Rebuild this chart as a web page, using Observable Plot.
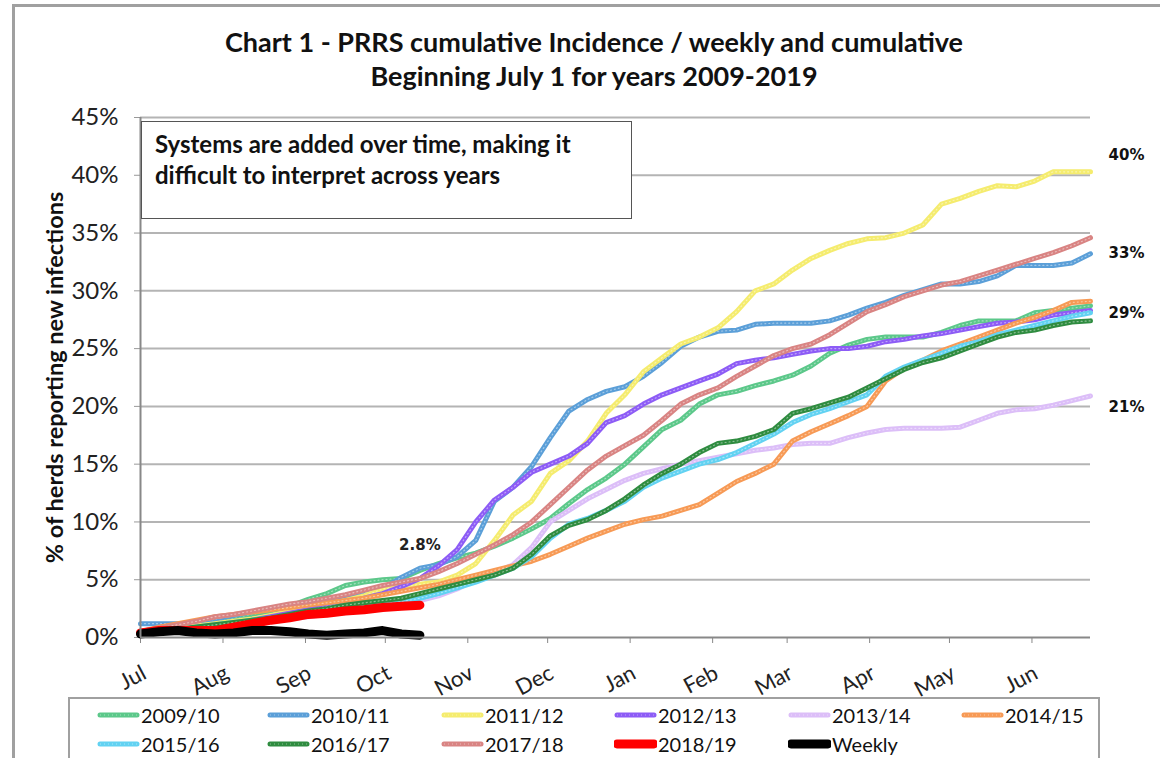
<!DOCTYPE html>
<html>
<head>
<meta charset="utf-8">
<script src="https://cdn.jsdelivr.net/npm/d3@7"></script>
<script src="https://cdn.jsdelivr.net/npm/@observablehq/plot@0.6"></script>
<style>
  html, body { margin: 0; padding: 0; background: #fff; }
  #wrap { position: relative; width: 1160px; height: 758px; overflow: hidden; background: #fff; font-family: Lato, "Open Sans", sans-serif; }
  #border { position: absolute; left: 12px; top: 4px; width: 1200px; height: 800px; border-left: 3px solid #a0a0a0; border-top: 3px solid #a0a0a0; }
  #title { position: absolute; left: 14px; top: 25px; width: 1160px; text-align: center; font-weight: 700; font-size: 27px; line-height: 34px; color: #111; }
  #chart { position: absolute; left: 0; top: 0; }
  #note { position: absolute; left: 141px; top: 121px; border: 1.5px solid #555; background: #fff; font-weight: 700; font-size: 24px; line-height: 31px; color: #111; padding: 6px 0 0 13px; box-sizing: border-box; width: 491px; height: 98px; }
  #legend { position: absolute; left: 68px; top: 697px; width: 1032px; height: 90px; border: 2px solid #a0a0a0; box-sizing: border-box; background: #fff; }
  .item { position: absolute; display: flex; align-items: center; font-size: 20px; color: #111; height: 24px; }
  .item svg { margin-right: 1px; }
</style>
</head>
<body>
<div id="wrap">
  <div id="border"></div>
  <div id="chart"></div>
  <div id="title">Chart 1 - PRRS cumulative Incidence / weekly and cumulative<br>Beginning July 1 for years 2009-2019</div>
  <div id="note">Systems are added over time, making it<br>difficult to interpret across years</div>
  <div id="legend"></div>
</div>
<script>
// ---- data ----
const monthLabels = ["Jul","Aug","Sep","Oct","Nov","Dec","Jan","Feb","Mar","Apr","May","Jun"];
const yTicks = [0, 5, 10, 15, 20, 25, 30, 35, 40, 45];

const seriesNames = ["2009/10","2010/11","2011/12","2012/13","2013/14","2014/15","2015/16","2016/17","2017/18","2018/19","Weekly"];
const seriesColors = ["#5cc88a","#5b9fd8","#f5ec6e","#8d5cf6","#dcbef8","#f79a55","#62d2f2","#2f8c40","#d98483","#ff0000","#000000"];

const s2009 = [0.5,0.8,1.0,1.2,1.4,1.7,2.0,2.3,2.7,3.3,3.8,4.5,4.8,5.0,5.1,5.8,6.4,6.9,7.3,7.9,8.6,9.4,10.3,11.6,12.8,13.8,15.0,16.5,18.0,18.8,20.2,21.0,21.3,21.8,22.2,22.7,23.5,24.6,25.3,25.8,26.0,26.0,26.0,26.4,27.0,27.4,27.4,27.4,28.1,28.3,28.5,28.7];
const s2010 = [1.2,1.2,1.2,1.3,1.6,1.9,2.2,2.5,2.8,3.0,3.3,3.6,3.9,4.2,5.2,6.0,6.3,7.0,8.4,11.8,13.0,14.8,17.3,19.6,20.6,21.3,21.7,22.6,23.8,25.2,26.0,26.5,26.6,27.1,27.2,27.2,27.2,27.4,27.9,28.5,29.0,29.6,30.1,30.6,30.6,30.8,31.3,32.2,32.2,32.2,32.4,33.2];
const s2011 = [0.4,0.6,0.8,1.0,1.2,1.4,1.6,1.9,2.2,2.5,2.8,3.2,3.6,4.2,4.4,4.6,4.8,5.4,6.4,8.4,10.6,11.8,14.2,15.3,17.0,19.4,21.0,23.0,24.2,25.4,26.0,26.8,28.2,30.0,30.6,31.8,32.8,33.5,34.1,34.5,34.6,35.0,35.7,37.5,38.0,38.6,39.1,39.0,39.5,40.3,40.3,40.3];
const s2012 = [0.3,0.4,0.6,0.8,1.0,1.2,1.5,1.8,2.1,2.4,2.7,3.0,3.4,3.8,4.4,5.1,6.2,7.6,10.0,11.9,13.0,14.3,15.0,15.7,16.8,18.6,19.2,20.2,21.0,21.6,22.2,22.8,23.7,24.0,24.2,24.5,24.8,25.0,25.0,25.2,25.6,25.8,26.1,26.3,26.6,26.9,27.2,27.3,27.5,27.9,28.1,28.3];
const s2013 = [0.3,0.4,0.5,0.7,0.8,1.0,1.2,1.4,1.6,1.8,2.0,2.2,2.4,2.6,2.9,3.2,3.6,4.2,5.0,5.6,6.3,7.8,10.0,11.0,12.0,12.8,13.6,14.2,14.6,15.0,15.3,15.6,15.9,16.2,16.4,16.7,16.8,16.8,17.3,17.7,18.0,18.1,18.1,18.1,18.2,18.8,19.4,19.7,19.8,20.1,20.5,20.9];
const s2014 = [0.5,0.9,1.2,1.5,1.8,2.0,2.2,2.4,2.6,2.8,3.0,3.2,3.4,3.7,4.0,4.3,4.6,5.0,5.4,5.8,6.2,6.6,7.2,7.9,8.6,9.2,9.8,10.2,10.5,11.0,11.5,12.5,13.5,14.2,15.0,17.0,17.8,18.5,19.2,20.0,22.2,23.3,24.0,24.8,25.4,26.0,26.6,27.2,27.7,28.3,29.0,29.1];
const s2015 = [0.3,0.5,0.7,0.9,1.1,1.3,1.5,1.7,1.9,2.1,2.3,2.5,2.7,2.9,3.1,3.4,3.8,4.3,4.8,5.4,6.0,7.0,8.6,9.8,10.3,11.0,11.8,13.0,13.8,14.4,15.0,15.4,16.0,16.8,17.6,18.6,19.3,19.8,20.4,21.0,22.6,23.4,24.0,24.6,25.2,25.6,26.2,26.6,27.0,27.4,27.8,28.1];
const s2016 = [0.3,0.5,0.7,0.9,1.1,1.3,1.5,1.7,2.0,2.3,2.5,2.8,3.0,3.2,3.4,3.8,4.2,4.6,5.0,5.4,6.0,7.2,8.8,9.7,10.2,11.0,12.0,13.2,14.2,15.0,16.0,16.8,17.0,17.4,18.0,19.4,19.8,20.3,20.8,21.6,22.4,23.2,23.8,24.2,24.8,25.4,26.0,26.4,26.6,27.0,27.3,27.4];
const s2017 = [0.5,0.8,1.1,1.4,1.8,2.0,2.3,2.6,2.9,3.1,3.4,3.7,4.1,4.5,4.8,5.1,5.7,6.4,7.2,8.0,8.9,10.0,11.5,13.0,14.5,15.7,16.6,17.5,18.8,20.2,21.0,21.6,22.6,23.5,24.4,25.0,25.4,26.2,27.2,28.2,28.8,29.5,30.0,30.5,30.8,31.3,31.8,32.3,32.8,33.3,33.9,34.6];
const s2018 = [0.4,0.6,0.6,0.6,0.6,0.9,1.2,1.5,1.7,2.0,2.1,2.3,2.4,2.6,2.7,2.8];
const sWeekly = [0.3,0.5,0.6,0.4,0.3,0.4,0.6,0.6,0.5,0.3,0.2,0.3,0.4,0.6,0.3,0.2];

const endLabels = ["40%","33%","29%","21%"];
const endLabelY = [41.7, 33.3, 28.1, 19.9];
const noteLabel = ["2.8%"];
const noteLabelY = [8.0];

// ---- build ----
const allSeries = [s2009,s2010,s2011,s2012,s2013,s2014,s2015,s2016,s2017,s2018,sWeekly];
const day = 864e5;
const start = Date.UTC(2009, 6, 1);
const weekDate = i => new Date(start + i * 7 * day);
const monthDates = monthLabels.map((m, i) => new Date(Date.UTC(2009, 6 + i, 1)));
const endDate = weekDate(51);

const rows = [];
allSeries.forEach((arr, s) => arr.forEach((v, i) => rows.push({series: seriesNames[s], idx: s, date: weekDate(i), value: v})));

const isBold = n => n === "2018/19" || n === "Weekly";
const widths = seriesNames.map(n => isBold(n) ? 9 : 5);

const lineMarks = seriesNames.flatMap((n, s) => {
  const data = rows.filter(r => r.idx === s);
  const base = Plot.line(data, {x: "date", y: "value", stroke: seriesColors[s], strokeWidth: widths[s], strokeLinejoin: "round", strokeLinecap: "round"});
  if (isBold(n)) return [base];
  return [base, Plot.line(data, {x: "date", y: "value", stroke: "#ffffff", strokeWidth: 1.2, strokeOpacity: 0.45, strokeDasharray: "1 3"})];
});

const chart = Plot.plot({
  width: 1160,
  height: 758,
  marginLeft: 140,
  marginRight: 70,
  marginTop: 117,
  marginBottom: 121,
  style: {fontFamily: "Lato, sans-serif", background: "transparent", color: "#222"},
  x: {type: "utc", domain: [new Date(start), endDate]},
  y: {domain: [0, 45]},
  marks: [
    Plot.ruleY(yTicks.filter(d => d > 0), {stroke: "#b4b4b4", strokeWidth: 2}),
    Plot.axisY({ticks: yTicks, tickFormat: d => d + "%", tickSize: 6, tickPadding: 16, fontSize: 24, stroke: "#999", label: null, color: "#222"}),
    Plot.axisX({ticks: monthDates, tickFormat: () => "", tickSize: 6, stroke: "#888", label: null}),
    Plot.text(monthLabels, {x: (d, i) => monthDates[i], y: 0, text: d => d, rotate: -28, textAnchor: "end", dx: 4, dy: 34, fontSize: 22, fill: "#222"}),
    Plot.text(["% of herds reporting new infections"], {frameAnchor: "left", textAnchor: "middle", rotate: -90, dx: -85, fontSize: 23.5, fontWeight: 700, fill: "#111"}),
    ...lineMarks,
    Plot.ruleX([new Date(start)], {stroke: "#888", strokeWidth: 2}),
    Plot.ruleY([0], {stroke: "#888", strokeWidth: 2}),
    Plot.text(endLabels, {x: endDate, y: (d, i) => endLabelY[i], text: d => d, dx: 36, fontSize: 15, fontWeight: 700, fontFamily: "DejaVu Sans", fill: "#111"}),
    Plot.text(noteLabel, {x: weekDate(15), y: (d, i) => noteLabelY[i], text: d => d, fontSize: 15, fontWeight: 700, fontFamily: "DejaVu Sans", fill: "#222"})
  ]
});
document.getElementById("chart").appendChild(chart);

// legend
const legend = document.getElementById("legend");
const colX = [27, 197, 371, 544, 718, 891];
seriesNames.forEach((n, s) => {
  const row = Math.floor(s / 6), col = s % 6;
  const div = document.createElement("div");
  div.className = "item";
  div.style.left = colX[col] + "px";
  div.style.top = (row === 0 ? 4 : 33) + "px";
  const w = isBold(n) ? 9 : 5;
  const dots = isBold(n) ? "" : `<line x1="3" x2="40" y1="6" y2="6" stroke="#fff" stroke-opacity="0.45" stroke-width="1.2" stroke-dasharray="1 3"/>`;
  div.innerHTML = `<svg width="43" height="12"><line x1="3" x2="40" y1="6" y2="6" stroke="${seriesColors[s]}" stroke-width="${w}" stroke-linecap="round"/>${dots}</svg><span>${n}</span>`;
  legend.appendChild(div);
});
</script>
</body>
</html>
